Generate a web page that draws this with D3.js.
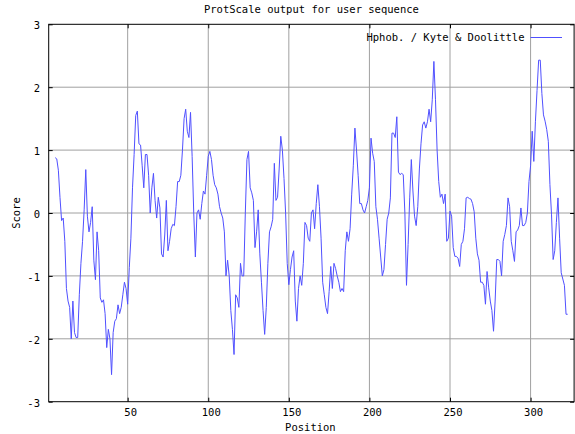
<!DOCTYPE html>
<html><head><meta charset="utf-8">
<script src="https://cdn.jsdelivr.net/npm/d3@7/dist/d3.min.js"></script>
<style>
html,body{margin:0;padding:0;background:#fff;}
svg{display:block;}
text{font-family:"DejaVu Sans Mono",monospace;font-size:10.5px;fill:#000;}
</style></head>
<body>
<svg id="chart" width="575" height="434"></svg>
<script>
const title = "ProtScale output for user sequence";
const seriesName = "Hphob. / Kyte & Doolittle";
const xLabel = "Position";
const yLabel = "Score";
const seqLength = 327;
const startPosition = 5;
const xTicks = [50, 100, 150, 200, 250, 300];
const yTicks = [-3, -2, -1, 0, 1, 2, 3];
const scores = [
 0.88,0.86,0.68,0.25,-0.12,-0.08,-0.45,-1.2,-1.4,-1.5,
 -2.0,-1.4,-1.9,-1.98,-1.98,-1.3,-0.8,-0.45,0.05,0.69,
 -0.05,-0.3,-0.15,0.1,-0.75,-1.06,-0.3,-0.6,-1.35,-1.42,
 -1.38,-1.6,-2.14,-1.85,-2.0,-2.57,-1.9,-1.72,-1.68,-1.46,
 -1.6,-1.5,-1.3,-1.1,-1.2,-1.45,-0.87,-0.4,0.4,0.93,
 1.55,1.62,1.1,1.08,0.75,0.4,0.93,0.93,0.6,0.0,
 0.4,0.63,0.2,-0.08,0.25,0.08,-0.65,-0.7,-0.35,0.2,
 -0.6,-0.45,-0.25,-0.18,-0.2,0.1,0.5,0.5,0.6,1.0,
 1.5,1.65,1.3,1.2,1.6,0.9,0.0,-0.7,0.0,0.05,
 -0.1,0.15,0.35,0.3,0.6,0.9,0.98,0.85,0.6,0.45,
 0.4,0.3,0.1,0.0,-0.08,-0.3,-1.0,-0.75,-1.0,-1.55,
 -1.85,-2.25,-1.3,-1.35,-1.5,-0.8,-1.0,-1.0,0.0,0.85,
 0.98,0.4,0.32,0.2,-0.55,-0.3,0.05,-0.65,-1.1,-1.55,
 -1.93,-1.5,-0.8,-0.3,-0.22,-0.1,0.79,0.2,0.25,0.7,
 1.22,1.0,0.55,0.0,-0.8,-1.14,-0.9,-0.7,-0.6,-1.4,
 -1.72,-1.2,-1.0,-1.15,-0.8,-0.15,-0.2,-0.4,-0.45,0.0,
 0.05,-0.25,0.15,0.45,0.1,-0.4,-1.1,-1.3,-1.5,-1.6,
 -1.25,-0.85,-1.2,-0.8,-0.88,-1.0,-1.1,-1.25,-1.2,-1.25,
 -0.6,-0.3,-0.45,-0.25,0.3,0.75,1.35,1.0,0.6,0.15,
 0.15,0.05,0.0,0.1,0.2,0.4,1.19,0.95,0.82,0.1,
 -0.1,-0.4,-0.7,-1.0,-0.9,-0.5,-0.1,0.0,0.24,1.27,
 1.27,1.2,1.53,0.65,0.61,0.63,0.61,0.0,-1.15,-0.5,
 0.24,0.85,0.35,-0.05,-0.2,0.1,0.7,1.1,1.4,1.45,
 1.35,1.45,1.65,1.45,1.8,2.41,1.8,1.0,0.5,0.25,
 0.3,0.15,0.3,-0.45,-0.4,0.03,-0.05,-0.55,-0.69,-0.69,
 -0.72,-0.85,-0.5,-0.45,-0.25,0.24,0.25,0.23,0.22,0.15,
 0.02,-0.4,-0.65,-0.75,-1.1,-1.1,-1.15,-1.45,-0.93,-1.19,
 -1.4,-1.55,-1.88,-1.4,-0.74,-0.74,-0.77,-1.0,-0.45,-0.34,
 -0.2,0.24,0.1,-0.45,-0.6,-0.77,-0.3,-0.27,-0.2,0.08,
 -0.2,-0.2,-0.15,0.0,0.5,0.75,1.3,0.82,1.45,1.95,
 2.43,2.43,1.9,1.56,1.46,1.33,1.14,0.45,-0.03,-0.74,
 -0.6,-0.15,0.24,-0.4,-0.95,-1.05,-1.15,-1.61,-1.61
];

const data = scores.map((v, i) => ({pos: startPosition + i, v}));

const L = 48.7, R = 574.1, T = 24.3, B = 401.7;
const x = d3.scaleLinear().domain([1, seqLength]).range([L, R]);
const y = d3.scaleLinear().domain([-3, 3]).range([B, T]);

const svg = d3.select("#chart");

// grid
const grid = svg.append("g").attr("stroke", "#a0a0a0").attr("stroke-width", 1);
grid.selectAll("line.gx").data(xTicks).join("line")
  .attr("x1", d => x(d)).attr("x2", d => x(d)).attr("y1", T).attr("y2", B);
grid.selectAll("line.gy").data(yTicks.filter(d => d > -3 && d < 3)).join("line")
  .attr("x1", L).attr("x2", R).attr("y1", d => y(d)).attr("y2", d => y(d));

// axes via d3 (ticks inward, labels positioned like gnuplot)
const xAxisB = d3.axisBottom(x).tickValues(xTicks).tickSize(-4).tickFormat("");
const xAxisT = d3.axisTop(x).tickValues(xTicks).tickSize(-4).tickFormat("");
const yAxisL = d3.axisLeft(y).tickValues(yTicks).tickSize(-4).tickFormat("");
const yAxisR = d3.axisRight(y).tickValues(yTicks).tickSize(-4).tickFormat("");
[[xAxisB, `translate(0,${B})`], [xAxisT, `translate(0,${T})`],
 [yAxisL, `translate(${L},0)`], [yAxisR, `translate(${R},0)`]].forEach(([ax, tr]) => {
  const g = svg.append("g").attr("transform", tr).call(ax);
  g.select(".domain").remove();
  g.selectAll("line").attr("stroke", "#000");
});

// tick labels
svg.append("g").selectAll("text").data(xTicks).join("text")
  .attr("x", d => x(d) + 3).attr("y", 416).attr("text-anchor", "middle").text(d => d);
svg.append("g").selectAll("text").data(yTicks).join("text")
  .attr("x", 40).attr("y", d => y(d) + 5).attr("text-anchor", "end").text(d => d === 0 ? "0" : (d < 0 ? "-" + Math.abs(d) : d));

// line
const line = d3.line().x(d => x(d.pos)).y(d => y(d.v));
svg.append("path").datum(data).attr("d", line)
  .attr("fill", "none").attr("stroke", "#5050ff").attr("stroke-width", 1);

// frame
svg.append("rect").attr("x", L).attr("y", T).attr("width", R - L).attr("height", B - T)
  .attr("fill", "none").attr("stroke", "#000").attr("stroke-width", 1);

// title and labels
svg.append("text").attr("x", (L + R) / 2).attr("y", 13).attr("text-anchor", "middle").text(title);
svg.append("text").attr("x", (L + R) / 2 - 1).attr("y", 431).attr("text-anchor", "middle").text(xLabel);
svg.append("text").attr("transform", `translate(20,${(T + B) / 2}) rotate(-90)`)
  .attr("text-anchor", "middle").text(yLabel);

// legend
svg.append("text").attr("x", 524.5).attr("y", 41).attr("text-anchor", "end").text(seriesName);
svg.append("line").attr("x1", 530.5).attr("x2", 562).attr("y1", 37.5).attr("y2", 37.5)
  .attr("stroke", "#5050ff").attr("stroke-width", 1);
</script>
</body></html>
